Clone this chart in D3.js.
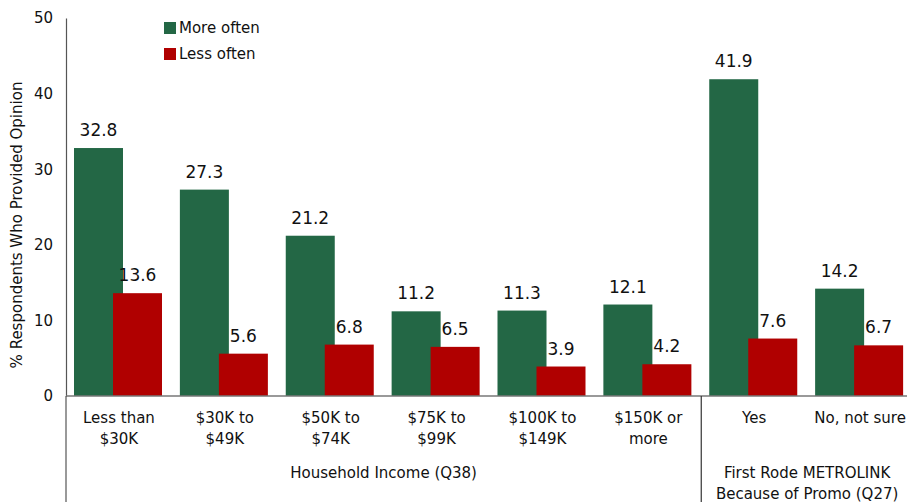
<!DOCTYPE html>
<html>
<head>
<meta charset="utf-8">
<script src="https://cdn.jsdelivr.net/npm/d3@7"></script>
<style>
  html, body { margin: 0; padding: 0; background: #fff; }
  svg { display: block; font-family: "DejaVu Sans", Verdana, sans-serif; }
</style>
</head>
<body>
<svg id="chart" width="907" height="502"></svg>
<script>
const categories = [
  ["Less than", "$30K"],
  ["$30K to", "$49K"],
  ["$50K to", "$74K"],
  ["$75K to", "$99K"],
  ["$100K to", "$149K"],
  ["$150K or", "more"],
  ["Yes"],
  ["No, not sure"]
];
const seriesNames = ["More often", "Less often"];
const moreOften = [32.8, 27.3, 21.2, 11.2, 11.3, 12.1, 41.9, 14.2];
const lessOften = [13.6, 5.6, 6.8, 6.5, 3.9, 4.2, 7.6, 6.7];
const yTicks = [0, 10, 20, 30, 40, 50];
const groups = [
  { lines: ["Household Income (Q38)"], from: 0, to: 5 },
  { lines: ["First Rode METROLINK", "Because of Promo (Q27)"], from: 6, to: 7 }
];
const colors = ["#236745", "#b00000"];

const svg = d3.select("#chart");
const mLeft = 66, mRight = 913, mTop = 18, mBottom = 396;

const catKeys = categories.map((c, i) => i);
const x0 = d3.scaleBand().domain(catKeys).range([mLeft, mRight]).padding(0);
const x1 = d3.scalePoint().domain(seriesNames).range([8, 47]);
const barW = 49;
const y = d3.scaleLinear().domain([0, 50]).range([mBottom, mTop]);

const values = [moreOften, lessOften];

// bars
seriesNames.forEach((s, si) => {
  const g = svg.append("g");
  g.selectAll("rect").data(values[si]).join("rect")
    .attr("x", (d, i) => x0(i) + x1(s))
    .attr("y", d => y(d))
    .attr("width", barW)
    .attr("height", d => y(0) - y(d))
    .attr("fill", colors[si]);
});
// labels
seriesNames.forEach((s, si) => {
  svg.append("g").selectAll("text").data(values[si]).join("text")
    .attr("x", (d, i) => x0(i) + x1(s) + barW / 2)
    .attr("y", d => y(d) - 12)
    .attr("text-anchor", "middle")
    .attr("font-size", 17)
    .attr("fill", "#111")
    .text(d => d.toFixed(1));
});

// y axis
const yAxis = d3.axisLeft(y).tickValues(yTicks).tickSize(0).tickPadding(13);
const yg = svg.append("g").attr("transform", `translate(${mLeft},0)`).call(yAxis);
yg.select(".domain").attr("stroke", "#555").attr("stroke-width", 1.2);
yg.selectAll("text").attr("font-size", 15).attr("fill", "#111")
  .attr("font-family", "DejaVu Sans, Verdana, sans-serif");

// baseline
svg.append("line").attr("x1", mLeft).attr("x2", mRight)
  .attr("y1", y(0)).attr("y2", y(0))
  .attr("stroke", "#777").attr("stroke-width", 1.5);

// y title
svg.append("text")
  .attr("transform", `translate(22,${(mTop + mBottom) / 2 + 18}) rotate(-90)`)
  .attr("text-anchor", "middle")
  .attr("font-size", 15)
  .attr("fill", "#111")
  .text("% Respondents Who Provided Opinion");

// category labels
const catG = svg.append("g");
categories.forEach((lines, i) => {
  const t = catG.append("text")
    .attr("text-anchor", "middle")
    .attr("font-size", 15)
    .attr("fill", "#111");
  lines.forEach((ln, li) => {
    t.append("tspan")
      .attr("x", x0(i) + x0.bandwidth() / 2)
      .attr("y", 423 + li * 21)
      .text(ln);
  });
});

// group separators
svg.append("line").attr("x1", mLeft).attr("x2", mLeft)
  .attr("y1", y(0)).attr("y2", 502).attr("stroke", "#555").attr("stroke-width", 1.2);
groups.forEach(gr => {
  const xs = x0(gr.from), xe = x0(gr.to) + x0.bandwidth();
  if (gr.from > 0) {
    svg.append("line").attr("x1", xs).attr("x2", xs)
      .attr("y1", y(0)).attr("y2", 502).attr("stroke", "#333").attr("stroke-width", 1.2);
  }
  const t = svg.append("text").attr("text-anchor", "middle")
    .attr("font-size", 15).attr("fill", "#111");
  gr.lines.forEach((ln, li) => {
    t.append("tspan").attr("x", (xs + xe) / 2).attr("y", 478 + li * 21).text(ln);
  });
});

// legend
const lg = svg.append("g");
seriesNames.forEach((s, i) => {
  lg.append("rect").attr("x", 164).attr("y", 22 + i * 26)
    .attr("width", 12).attr("height", 12).attr("fill", colors[i]);
  lg.append("text").attr("x", 179).attr("y", 28 + i * 26)
    .attr("dy", "0.35em").attr("font-size", 15).attr("fill", "#111").text(s);
});
</script>
</body>
</html>
